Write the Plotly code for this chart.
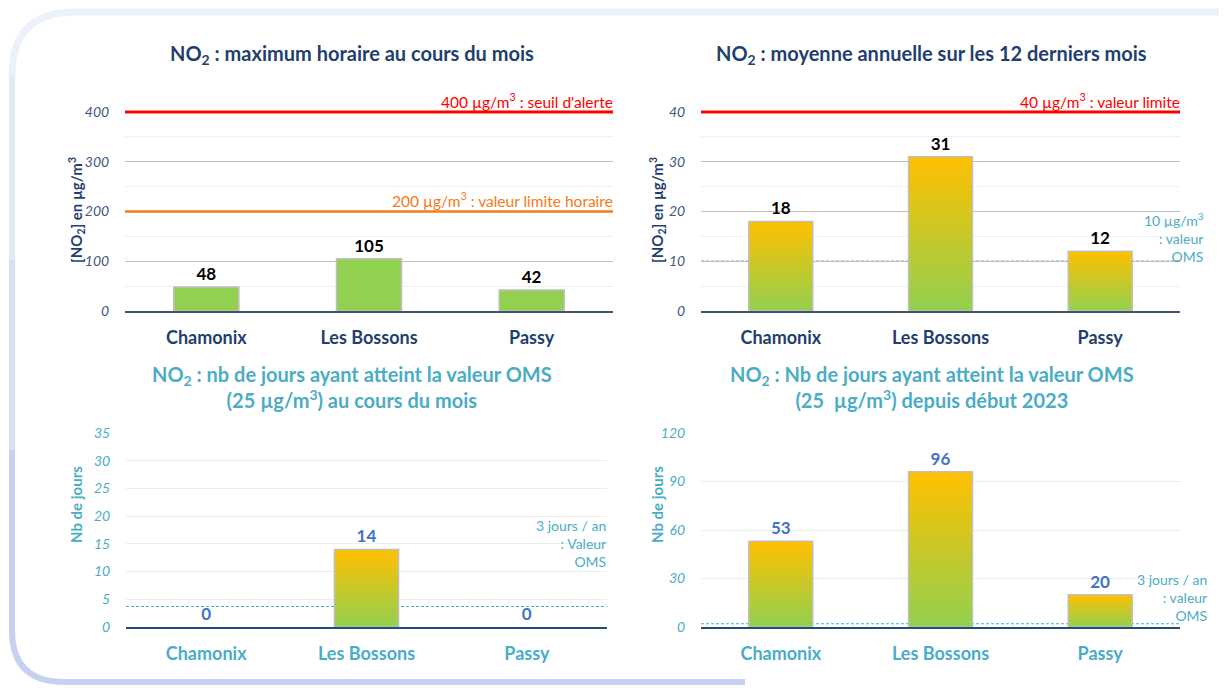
import plotly.graph_objects as go

# ---------------- data ----------------
categories = ["Chamonix", "Les Bossons", "Passy"]
max_horaire = [48, 105, 42]          # µg/m3, max horaire du mois
moyenne_annuelle = [18, 31, 12]      # µg/m3, moyenne 12 derniers mois
jours_oms_mois = [0, 14, 0]          # nb jours >= 25 µg/m3 dans le mois
jours_oms_2023 = [53, 96, 20]        # nb jours >= 25 µg/m3 depuis début 2023

seuil_alerte = 400
valeur_limite_horaire = 200
valeur_limite_annuelle = 40
oms_annuelle = 10
oms_jours_mois = 3.7
oms_jours_2023 = 2

# ---------------- styling helpers ----------------
OFF = 8                      # page margin offset
W, H = 1227 - OFF, 693 - 16
FONT = "Lato"
DARK = "#1F3F6F"
TEAL = "#4BACC6"
TICK_DARK = "#3E5682"
VAL_BLUE = "#4472C4"
GREEN = (0x92, 0xD0, 0x50)
ORANGE = (0xFF, 0xC0, 0x00)
N_SEG = 40


def px(x):
    return (x - OFF) / W


def py(y):
    return 1 - (y - OFF) / H


fig = go.Figure()

panels = [
    dict(i=1, vals=max_horaire, xr=(125, 613), yr=(87, 311), rng=450, dtick=100, minor=50,
         grad=False, tcol="black", theme="dark"),
    dict(i=2, vals=moyenne_annuelle, xr=(701, 1180), yr=(87, 311), rng=45, dtick=10, minor=5,
         grad=True, tcol="black", theme="dark"),
    dict(i=3, vals=jours_oms_mois, xr=(126, 607), yr=(433, 627), rng=35, dtick=5, minor=None,
         grad=True, tcol=VAL_BLUE, theme="teal"),
    dict(i=4, vals=jours_oms_2023, xr=(701, 1180), yr=(433, 627), rng=120, dtick=30, minor=None,
         grad=True, tcol=VAL_BLUE, theme="teal"),
]

layout_axes = {}
for p in panels:
    i = p["i"]
    xs = "" if i == 1 else str(i)
    xa, ya = "x" + xs, "y" + xs
    vals = p["vals"]
    if p["grad"]:
        # overlapping bars, tallest (top colour) first, shorter ones drawn over
        for k in range(N_SEG):
            frac = (N_SEG - k) / N_SEG
            t = (N_SEG - k - 0.5) / N_SEG
            c = tuple(round(GREEN[j] + (ORANGE[j] - GREEN[j]) * t) for j in range(3))
            fig.add_trace(go.Bar(
                x=categories, y=[v * frac for v in vals], base=[0] * len(vals),
                width=0.4, marker=dict(color="rgb(%d,%d,%d)" % c, line=dict(width=0)),
                xaxis=xa, yaxis=ya, showlegend=False, hoverinfo="skip"))
        fill = "rgba(0,0,0,0)"
    else:
        fill = "#92D050"
    fig.add_trace(go.Bar(
        x=categories, y=vals, base=[0] * len(vals), width=0.4,
        marker=dict(color=fill, line=dict(color="#BFBFBF",
                                          width=[0 if v == 0 else 1.5 for v in vals])),
        text=[str(v) for v in vals], textposition="outside", cliponaxis=False,
        textfont=dict(family=FONT, size=17, color=p["tcol"], weight="bold"),
        xaxis=xa, yaxis=ya, showlegend=False))

    dark = p["theme"] == "dark"
    catcol = DARK if dark else TEAL
    tickcol = TICK_DARK if dark else TEAL
    gridcol = "#BFBFBF" if dark else "#EDEDED"
    linecol = "#44546A" if dark else "#1F4E79"
    xkey = "xaxis" + xs
    ykey = "yaxis" + xs
    layout_axes[xkey] = dict(
        domain=[px(p["xr"][0]), px(p["xr"][1])], anchor=ya,
        showline=True, linecolor=linecol, linewidth=2,
        ticks="outside", ticklen=9, tickcolor="rgba(0,0,0,0)",
        tickfont=dict(family=FONT, size=18, color=catcol, weight="bold"),
        showgrid=False, fixedrange=True, automargin=False)
    yax = dict(
        domain=[py(p["yr"][1]), py(p["yr"][0])], anchor=xa,
        range=[0, p["rng"]], dtick=p["dtick"], tick0=0,
        showgrid=True, gridcolor=gridcol, gridwidth=1, zeroline=False,
        ticks="outside", ticklen=12, tickcolor="rgba(0,0,0,0)",
        tickfont=dict(family=FONT, size=14, color=tickcol, style="italic"),
        showline=False, fixedrange=True, automargin=False)
    if p["minor"]:
        yax["minor"] = dict(dtick=p["minor"], showgrid=True, gridcolor="#F0F0F0", gridwidth=1)
    layout_axes[ykey] = yax

shapes = []
annotations = []


def hline(i, val, color, width, dash="solid", layer="above"):
    xs = "" if i == 1 else str(i)
    shapes.append(dict(type="line", xref="x" + xs + " domain", yref="y" + xs,
                       x0=0, x1=1, y0=val, y1=val, layer=layer,
                       line=dict(color=color, width=width, dash=dash)))


hline(1, seuil_alerte, "#FF0000", 3)
hline(1, valeur_limite_horaire, "#F47A20", 2.5)
hline(2, valeur_limite_annuelle, "#FF0000", 3)
hline(2, oms_annuelle, TEAL, 1.2, "3px,2px", "below")
hline(3, oms_jours_mois, TEAL, 1.2, "3px,2px", "below")
hline(4, oms_jours_2023, TEAL, 1.2, "3px,2px", "below")


def line_label(i, val, text, color):
    xs = "" if i == 1 else str(i)
    annotations.append(dict(text=text, xref="x" + xs + " domain", yref="y" + xs,
                            x=1, y=val, xanchor="right", yanchor="bottom", showarrow=False,
                            yshift=-1, xshift=2,
                            font=dict(family=FONT, size=15.5, color=color)))


line_label(1, seuil_alerte, "400 µg/m<sup>3</sup> : seuil d'alerte", "#FF0000")
line_label(1, valeur_limite_horaire, "200 µg/m<sup>3</sup> : valeur limite horaire", "#F47A20")
line_label(2, valeur_limite_annuelle, "40 µg/m<sup>3</sup> : valeur limite", "#FF0000")


def free_text(x, y, text, size, color, bold=False, angle=0, align="center", xanchor="center"):
    annotations.append(dict(text=text, xref="paper", yref="paper", x=px(x), y=py(y),
                            xanchor=xanchor, yanchor="middle", showarrow=False,
                            textangle=angle, align=align,
                            font=dict(family=FONT, size=size, color=color,
                                      weight="bold" if bold else "normal")))


# titles
free_text(352, 55, "NO<sub>2</sub> : maximum horaire au cours du mois", 20, DARK, True)
free_text(932, 55, "NO<sub>2</sub> : moyenne annuelle sur les 12 derniers mois", 20, DARK, True)
free_text(352, 387, "NO<sub>2</sub> : nb de jours ayant atteint la valeur OMS<br>(25 µg/m<sup>3</sup>) au cours du mois",
          20, TEAL, True)
free_text(932, 387, "NO<sub>2</sub> : Nb de jours ayant atteint la valeur OMS<br>(25  µg/m<sup>3</sup>) depuis début 2023",
          20, TEAL, True)

# y-axis titles
free_text(76, 210, "[NO<sub>2</sub>] en µg/m<sup>3</sup>", 15, DARK, True, angle=-90)
free_text(657, 210, "[NO<sub>2</sub>] en µg/m<sup>3</sup>", 15, DARK, True, angle=-90)
free_text(76, 505, "Nb de jours", 15, TEAL, True, angle=-90)
free_text(657, 505, "Nb de jours", 15, TEAL, True, angle=-90)

# OMS labels
free_text(1206, 237, "10 µg/m<sup>3</sup><br>: valeur<br>OMS", 14, TEAL, align="right", xanchor="right")
free_text(608, 543, "3 jours / an<br>: Valeur<br>OMS", 14, TEAL, align="right", xanchor="right")
free_text(1209, 597, "3 jours / an<br>: valeur<br>OMS", 14, TEAL, align="right", xanchor="right")

# background frame (rounded border, lighter at the top, bluer at the bottom)
BOT = 682
frame_parts = [
    ("M %f,%f L %f,%f Q %f,%f %f,%f" % (px(1240), py(12), px(75), py(12), px(12), py(12), px(12), py(75)),
     "#EDF1F9", 7),
    ("M %f,%f L %f,%f" % (px(12), py(75), px(12), py(260)), "#E3E9F6", 6),
    ("M %f,%f L %f,%f" % (px(12), py(260), px(12), py(450)), "#D6DFF3", 6),
    ("M %f,%f L %f,%f Q %f,%f %f,%f L %f,%f" % (px(12), py(450), px(12), py(630), px(12), py(BOT),
                                              px(64), py(BOT), px(745), py(BOT)), "#C5D1EE", 6),
]
for path, col, wdt in frame_parts:
    shapes.append(dict(type="path", xref="paper", yref="paper", path=path,
                       line=dict(color=col, width=wdt), layer="below"))

fig.update_layout(
    width=W, height=H, margin=dict(l=0, r=0, t=0, b=0, autoexpand=False),
    paper_bgcolor="white", plot_bgcolor="rgba(0,0,0,0)",
    barmode="overlay", showlegend=False,
    font=dict(family=FONT),
    shapes=shapes, annotations=annotations,
    **layout_axes,
)

fig.write_html("out.html")
